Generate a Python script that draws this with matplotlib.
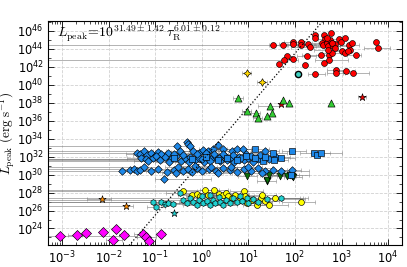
import numpy as np
import matplotlib

matplotlib.use("Agg")
import matplotlib.pyplot as plt  # noqa: E402
from matplotlib.ticker import LogLocator, NullFormatter  # noqa: E402

plt.rcParams["mathtext.fontset"] = "cm"
plt.rcParams["axes.unicode_minus"] = False

# fit parameters quoted on the chart
FIT_LOG_NORM = 31.49
FIT_SLOPE = 6.01

# every group: log10(tau_R), log10(L_peak), error bar extent below / above in dex
red_lx = [1.53, 1.74, 1.96, 1.96, 2.12, 2.14, 2.29, 2.32, 2.43, 2.43, 2.63, 2.64, 2.77, 2.57,
          2.61, 2.68, 2.71, 2.75, 2.79, 2.82, 2.86, 2.94, 2.99, 3.07, 3.17, 3.22, 3.18, 3.00,
          3.07, 3.13, 3.31, 3.73, 3.79, 1.83, 1.76, 1.66, 1.96, 2.25, 2.21, 2.55, 2.63, 2.74,
          2.74, 2.79, 2.44, 2.88, 2.88, 3.09, 3.24, 2.69, 2.80, 2.71, 2.86]
red_ly = [44.39, 44.42, 44.79, 44.50, 44.79, 44.42, 44.50, 44.23, 45.51, 45.18, 45.58, 45.13,
          45.81, 44.61, 44.42, 44.68, 44.31, 44.95, 44.61, 44.31, 44.50, 45.06, 44.79, 45.18,
          44.39, 44.68, 43.93, 43.74, 43.55, 43.74, 43.37, 44.79, 44.05, 43.18, 42.81, 42.35,
          42.92, 43.18, 42.24, 43.29, 42.39, 43.29, 42.81, 43.55, 41.23, 41.60, 41.37, 41.56,
          41.29, 45.24, 44.68, 43.93, 44.12]
red_lo = [6, 0.3, 0.2, 0.3, 0, 0.3, 0.2, 0.4, 0, 0, 0, 0.15, 0, 0.2, 0.2, 0, 0.25, 0, 0.2, 0.2,
          0, 0.15, 0, 0, 0.2, 0, 0, 0.2, 0, 0, 0.2, 0, 0.3, 0, 6, 0, 0, 0.2, 0, 0.4, 0, 0, 0.3,
          0.2, 0.15, 0.2, 0.2, 0.2, 0.2, 0, 0, 0.3, 0]
red_hi = [0.3, 0.3, 0.2, 0.3, 0, 0.3, 0.2, 0.3, 0, 0, 0, 0.15, 0, 0.2, 0.2, 0, 0.25, 0, 0.2, 0.3,
          0, 0.15, 0, 0, 0.2, 0, 0, 0.2, 0, 0, 0.1, 0, 0.25, 0, 0.3, 0, 0, 0.2, 0, 0.15, 0, 0,
          0.4, 0.2, 0.2, 0.2, 0.2, 0.2, 0.35, 0, 0, 0.3, 0]

blue_d_lx = [-1.40, -1.33, -1.25, -1.18, -1.10, -1.00, -0.95, -0.88, -0.72, -0.54, -0.47, -0.32,
             -0.29, -0.25, -0.18, -0.07, 0.03, 0.14, 0.25, 0.35, 0.46, 0.64, 0.75, 0.89, 1.36,
             -1.30, -1.20, -1.05, -0.90, -0.80, -0.65, -0.55, -0.45, -0.35, -0.25, -0.15, -0.05,
             0.05, 0.12, 0.20, 0.30, 0.40, 0.50, 0.60, 0.70, 0.80, 0.90, 1.00, 1.10, 1.20, 1.45,
             -1.71, -1.55, -1.45, -1.40, -1.33, -1.23, -1.10, -0.95, -0.81, -0.75, -0.60, -0.50,
             -0.40, -0.30, -0.20, -0.10, 0.00, 0.15, 0.30, 0.45, 0.60, 0.75, 0.90, 1.05, 1.20,
             1.36, 1.53, 1.71, 1.93,
             -1.15, -0.98, -0.70, -0.60, -0.40, -0.28, -0.10, 0.00, 0.08, 0.17, 0.27, 0.37,
             0.45, 0.55, 0.68, 0.85, 0.95, 1.05, 1.25, 1.60, 0.62, 0.20, -0.15, 1.00, 0.35,
             -0.55, 1.30]
blue_d_ly = [32.46, 32.30, 32.60, 32.20, 32.40, 32.10, 32.50, 32.25, 32.46, 33.21, 32.65, 33.60,
             33.40, 33.20, 32.65, 32.46, 32.70, 32.60, 32.83, 33.33, 32.83, 32.65, 32.83, 32.90,
             32.65, 31.90, 31.70, 31.80, 31.60, 31.95, 31.70, 32.10, 31.50, 31.85, 32.00, 31.60,
             31.90, 31.40, 32.10, 31.70, 31.95, 31.50, 32.05, 31.75, 31.45, 32.00, 31.60, 31.85,
             31.40, 31.70, 31.75, 30.39, 30.50, 30.60, 30.35, 30.55, 30.80, 30.40, 30.60, 29.56,
             30.30, 30.55, 30.80, 30.40, 30.60, 30.30, 30.70, 30.45, 30.60, 30.35, 30.75, 30.50,
             30.30, 30.60, 30.45, 30.70, 30.39, 30.55, 30.39, 30.55,
             31.55, 32.05, 31.45, 32.25, 32.20, 31.45, 32.25, 31.70, 32.40, 31.55, 32.30, 31.85,
             32.35, 31.60, 32.20, 31.80, 32.35, 32.10, 32.15, 32.00, 30.85, 30.90, 30.95, 30.90,
             30.15, 30.20, 30.15]
blue_d_lo = [6, 0.3, 6, 0.3, 0.3, 0.3, 0.2, 0.3, 0.4, 6, 0.3, 0, 0, 0, 0.3, 0.3, 0.3, 0.3, 0.3, 0,
             0.3, 0.3, 0.3, 0.2, 0.3, 0.3, 6, 0.3, 6, 0.3, 6, 0.3, 6, 0.3, 0.3, 0.4, 0.3, 0.4, 0.3,
             0.3, 0.3, 0.3, 0.3, 0.3, 0.3, 0.3, 0.3, 0.3, 0.3, 0.3, 0.3, 6, 0.2, 6, 0.2, 0.2, 6,
             0.2, 0.3, 0.2, 0.3, 0.3, 0.3, 0.3, 0.3, 0.3, 0.3, 0.3, 0.3, 0.3, 0.3, 0.3, 0.3, 0.3,
             0.3, 0.3, 0.3, 0.3, 0.5, 0.2,
             0.3, 0.3, 0.3, 0.3, 0.3, 0.3, 0.3, 0.3, 0.3, 0.3, 0.3, 0.3, 0.3, 0.3, 0.3, 0.3,
             0.3, 0.3, 0.3, 0.3, 0.3, 0.3, 0.3, 0.3, 0.3, 0.3, 0.3]
blue_d_hi = [0.2, 0.3, 0.2, 0.3, 0.3, 0.3, 0.3, 0.2, 0.3, 0.2, 0.3, 0, 0, 0, 0.3, 0.3, 0.4, 0.3,
             0.3, 0, 0.3, 0.3, 0.3, 0.3, 0.3, 0.3, 0.5, 0.3, 0.6, 0.3, 0.4, 0.3, 0.5, 0.3, 0.3,
             0.4, 0.3, 0.4, 0.3, 0.3, 0.3, 0.3, 0.3, 0.3, 0.3, 0.3, 0.3, 0.3, 0.3, 0.3, 0.3, 0.2,
             0.2, 0.3, 0.2, 0.2, 0.3, 0.2, 0.3, 1.0, 0.3, 0.3, 0.3, 0.3, 0.3, 0.3, 0.3, 0.3, 0.3,
             0.3, 0.3, 0.3, 0.3, 0.3, 0.3, 0.3, 0.3, 0.3, 0.6, 0.2,
             0.3, 0.3, 0.3, 0.3, 0.3, 0.3, 0.3, 0.3, 0.3, 0.3, 0.3, 0.3, 0.3, 0.3, 0.3, 0.3,
             0.3, 0.3, 0.3, 0.3, 0.3, 0.3, 0.3, 0.3, 0.3, 0.3, 0.3]

blue_s_lx = [1.14, 1.53, 1.93, 2.41, 2.48, 2.55, 1.32, 1.91, -0.60, -0.20, 0.10, 0.35, 0.55,
             0.75, 0.95, 1.15, 1.35, 1.55, 1.70]
blue_s_ly = [32.83, 32.38, 32.65, 32.46, 32.20, 32.46, 31.52, 30.00, 31.90, 31.75, 31.95, 31.60,
             31.85, 31.60, 32.10, 31.80, 31.95, 31.65, 31.85]
blue_s_lo = [0.3, 0.5, 0.2, 0.3, 0, 0.2, 0.3, 0.4, 0.3, 0.3, 0.3, 0.3, 0.3, 0.3, 0.3, 0.3, 0.3,
             0.3, 0.3]
blue_s_hi = [0.3, 0.3, 0.3, 0.6, 0, 0.2, 0.3, 0.4, 0.3, 0.3, 0.3, 0.3, 0.3, 0.3, 0.3, 0.3, 0.3,
             0.3, 0.3]

dgreen_lx = [0.98, 1.39, 1.40, 1.45, 1.68, 1.82, 1.89, 1.96, 1.93]
dgreen_ly = [29.83, 29.30, 29.44, 30.00, 29.83, 29.83, 30.00, 29.71, 29.83]
dgreen_lo = [0.2, 0.2, 0, 0.2, 0.2, 0.2, 0.2, 0.2, 0]
dgreen_hi = [0.2, 0.2, 0, 0.2, 0.2, 0.2, 0.2, 0.2, 0]

yellow_lx = [-0.40, -0.22, -0.11, -0.04, 0.07, 0.14, 0.27, 0.36, 0.46, 0.53, 0.57, 0.64, 0.71,
             0.82, 0.91, 0.93, 0.96, 1.07, 1.18, 1.28, 1.30, 1.36, 1.57, 1.45, 2.13]
yellow_ly = [28.20, 27.75, 27.85, 27.57, 28.31, 27.75, 28.24, 27.85, 27.75, 27.94, 27.57, 27.38,
             27.75, 27.20, 28.20, 27.57, 26.81, 27.20, 26.62, 27.38, 27.75, 27.10, 27.38, 26.62,
             26.93]
yellow_lo = [6, 0.3, 0.3, 0.3, 6, 0.3, 0.3, 0.3, 0.3, 0.3, 0.3, 0.3, 0.3, 0.3, 0.3, 0.3, 0.3,
             0.3, 0.3, 0.3, 0.3, 0.3, 0.3, 0.3, 0.4]
yellow_hi = [0.3, 0.3, 0.3, 0.3, 0.3, 0.3, 0.3, 0.3, 0.3, 0.3, 0.3, 0.3, 0.3, 0.3, 0.4, 0.3, 0.3,
             0.3, 0.3, 1.0, 0.3, 0.3, 0.6, 0.4, 0.3]

cyan_lx = [-1.05, -0.98, -0.87, -0.80, -0.72, -0.61, -0.47, -0.40, -0.32, -0.25, -0.18, -0.11,
           -0.07, 0.00, 0.03, 0.11, 0.18, 0.18, 0.25, 0.28, 0.36, 0.39, 0.46, 0.53, 0.61, 0.68,
           0.75, 0.82, 0.86, 0.96, 1.00, 1.11, 1.21, 1.41, 1.71]
cyan_ly = [26.93, 26.44, 26.93, 26.70, 26.81, 26.70, 27.94, 27.19, 26.81, 27.38, 27.00, 26.62,
           27.19, 27.57, 26.81, 27.08, 27.75, 26.62, 27.19, 26.81, 27.46, 27.00, 26.62, 27.19,
           26.81, 27.38, 26.92, 27.57, 27.08, 27.38, 26.81, 27.30, 27.00, 27.30, 27.38]
cyan_lo = [6, 0.2, 6, 0.2, 0.3, 0.3, 0.3, 6, 0.3, 6, 0.3, 0.3, 0.3, 0.3, 0.3, 0.3, 0.3, 0.3,
           0.3, 0.3, 0.3, 0.3, 0.3, 0.3, 0.3, 0.3, 0.3, 0.3, 0.3, 0.3, 0.3, 0.3, 0.3, 0.3, 0.3]
cyan_hi = [0.2, 0.2, 0.2, 0.2, 0.3, 0.3, 0.3, 0.3, 0.3, 0.3, 0.3, 0.3, 0.3, 0.3, 0.3, 0.3, 0.3,
           0.3, 0.3, 0.3, 0.3, 0.3, 0.3, 0.3, 0.3, 0.3, 0.3, 0.3, 0.3, 0.3, 0.3, 0.3, 0.3, 0.8,
           0.4]

orange_lx = [-2.14, -1.63]
orange_ly = [27.30, 26.55]
orange_lo = [0.32, 6]
orange_hi = [0.2, 0.15]

magenta_lx = [-3.05, -2.67, -2.49, -2.11, -1.85, -1.91, -1.68, -1.26, -1.19, -1.13, -0.88]
magenta_ly = [23.12, 23.23, 23.54, 23.62, 23.91, 22.67, 23.23, 23.43, 23.05, 22.60, 23.35]
magenta_lo = [6, 0.2, 0, 0, 0, 0.15, 0.1, 0.2, 0.2, 0, 0.1]
magenta_hi = [1.65, 0.1, 0, 0, 0, 0.2, 0.1, 0, 0.2, 0, 0.1]

green_lx = [0.78, 0.96, 1.16, 1.20, 1.46, 1.50, 1.39, 1.75, 1.88, 2.77]
green_ly = [38.55, 37.08, 36.86, 36.29, 37.61, 36.89, 36.49, 38.36, 37.99, 38.02]
green_lo = [0.1, 0.1, 0.1, 0.1, 0.25, 0, 0, 0, 0, 0]
green_hi = [0.1, 0.1, 0.1, 0.1, 0.2, 0, 0, 0, 0, 0]

gold_lx = [0.96, 1.29]
gold_ly = [41.29, 40.28]
gold_lo = [0.1, 0.1]
gold_hi = [0.1, 0.1]

redstar_lx = [3.44, 1.71]
redstar_ly = [38.66, 37.84]
redstar_lo = [0.08, 0]
redstar_hi = [0.08, 0]

teal_lx = [2.07]
teal_ly = [41.23]

cyanstar_lx = [-0.59]
cyanstar_ly = [25.76]


def draw_group(ax, lx, ly, lo=None, hi=None, marker="o", color="red", size=14,
               edge="black", edge_width=0.45, zorder=3):
    x = np.power(10.0, np.asarray(lx))
    y = np.power(10.0, np.asarray(ly))
    if lo is not None:
        lo = np.asarray(lo, dtype=float)
        hi = np.asarray(hi, dtype=float)
        keep = (lo > 0) | (hi > 0)
        xk = x[keep]
        err = [xk - xk * np.power(10.0, -lo[keep]), xk * np.power(10.0, hi[keep]) - xk]
        ax.errorbar(xk, y[keep], xerr=err, fmt="none", ecolor="0.45", elinewidth=0.7,
                    capsize=1.2, capthick=0.6, alpha=0.55, zorder=2)
    ax.scatter(x, y, marker=marker, s=size, facecolor=color, edgecolor=edge,
               linewidths=edge_width, zorder=zorder)


fig = plt.figure(figsize=(4.07, 2.67), dpi=100)
ax = fig.add_axes([0.118, 0.082, 0.870, 0.839])
ax.set_xscale("log")
ax.set_yscale("log")

draw_group(ax, magenta_lx, magenta_ly, magenta_lo, magenta_hi, marker="D", color="#ff00ff", size=26)
draw_group(ax, orange_lx, orange_ly, orange_lo, orange_hi, marker="*", color="#ff8c00", size=30)
draw_group(ax, cyanstar_lx, cyanstar_ly, marker="*", color="#20d0d0", size=30)
draw_group(ax, yellow_lx, yellow_ly, yellow_lo, yellow_hi, marker="o", color="#ffff00", size=18)
draw_group(ax, cyan_lx, cyan_ly, cyan_lo, cyan_hi, marker="h", color="#20d0d0", size=18)
draw_group(ax, dgreen_lx, dgreen_ly, dgreen_lo, dgreen_hi, marker="v", color="#0a6e0a", size=24)
draw_group(ax, blue_d_lx, blue_d_ly, blue_d_lo, blue_d_hi, marker="D", color="#1e88e8", size=15)
draw_group(ax, blue_s_lx, blue_s_ly, blue_s_lo, blue_s_hi, marker="s", color="#1e88e8", size=15)
draw_group(ax, redstar_lx, redstar_ly, redstar_lo, redstar_hi, marker="*", color="#ee0000", size=30)
draw_group(ax, green_lx, green_ly, green_lo, green_hi, marker="^", color="#33cc33", size=26)
draw_group(ax, gold_lx, gold_ly, gold_lo, gold_hi, marker=(4, 1, 0), color="#ffd700", size=30)
draw_group(ax, red_lx, red_ly, red_lo, red_hi, marker="o", color="#ff0000", size=18)
draw_group(ax, teal_lx, teal_ly, marker="o", color="#40d0c0", size=20, edge_width=1.0)

xmin, xmax = 10 ** -3.3, 10 ** 4.3
ymin, ymax = 10 ** 22.15, 10 ** 47.1
tau = np.logspace(-3.3, 4.3, 300)
ax.plot(tau, 10 ** FIT_LOG_NORM * tau ** FIT_SLOPE, ls=":", color="black", lw=0.9, zorder=5)

ax.set_xlim(xmin, xmax)
ax.set_ylim(ymin, ymax)

ax.xaxis.set_major_locator(LogLocator(base=10, numticks=20))
ax.xaxis.set_minor_locator(LogLocator(base=10, subs=np.arange(2, 10), numticks=20))
ax.xaxis.set_minor_formatter(NullFormatter())
ax.yaxis.set_major_locator(LogLocator(base=100, numticks=20))
ax.yaxis.set_minor_locator(LogLocator(base=10, subs=(1.0,), numticks=40))
ax.yaxis.set_minor_formatter(NullFormatter())

ax.tick_params(which="both", direction="in", top=True, right=True, labelsize=8.3)
ax.tick_params(which="major", length=4, width=0.6, pad=3)
ax.tick_params(which="minor", length=2, width=0.5)
ax.grid(True, which="major", ls="--", color="0.82", lw=0.6, zorder=0)
ax.set_axisbelow(True)
for spine in ax.spines.values():
    spine.set_linewidth(0.8)

ax.set_ylabel(r"$L_{\rm peak}\ ({\rm erg\ s^{-1}})$", fontsize=9.5, labelpad=0)
ax.text(0.025, 0.99,
        r"$L_{\rm peak}\!=\!10^{31.49\pm1.42}\,\tau_{\rm R}^{6.01\pm0.12}$",
        transform=ax.transAxes, ha="left", va="top", fontsize=10, zorder=6)

fig.savefig("out.png", dpi=100)
